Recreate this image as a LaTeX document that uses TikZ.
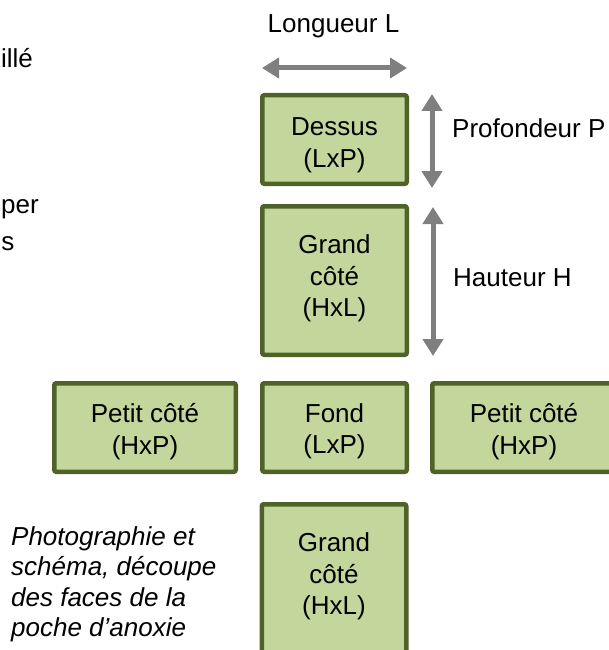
\documentclass[tikz,border=0pt]{standalone}
\usepackage{fontspec}
\setmainfont{Liberation Sans}
\usetikzlibrary{arrows.meta}
\definecolor{boxfill}{HTML}{C3D69B}
\definecolor{boxline}{HTML}{4F6228}
\definecolor{arrowgray}{HTML}{7F7F7F}
\begin{document}
\begin{tikzpicture}[x=1pt,y=-1pt,
  face/.style={draw=boxline, fill=boxfill, line width=4.5pt, rounded corners=2pt, minimum width=144.5pt, minimum height=88.5pt, inner sep=0pt, outer sep=0pt},
  tallface/.style={face, minimum height=148.5pt},
  wideface/.style={face, minimum width=181.5pt},
  facetext/.style={font=\fontsize{26}{31.5}\selectfont, align=center, inner sep=0pt, text=black},
  dimarrow/.style={draw=arrowgray, line width=5pt, {Triangle[width=20pt,length=17pt]}-{Triangle[width=20pt,length=17pt]}},
  lbl/.style={font=\fontsize{26}{31.5}\selectfont, inner sep=0pt, text=black}
]
\useasboundingbox (0,0) rectangle (609,650);
\clip (0,0) rectangle (609,650);

% cut-off text fragments on the left
\node[lbl, anchor=base east] (frag1) at (33,68) {illé};
\node[lbl, anchor=base east] (frag2) at (39,213) {per};
\node[lbl, anchor=base east] (frag3) at (14.5,250) {s};

% faces
\node[face] (dessus) at (334.5,139.5) {};
\node[facetext] (dessust) at (334.5,145) {Dessus\\(LxP)};

\node[tallface] (grand1) at (334.5,280.5) {};
\node[facetext] (grand1t) at (334.5,278.5) {Grand\\côté\\(HxL)};

\node[wideface] (petitg) at (145,427.5) {};
\node[facetext] (petitgt) at (145,431.5) {Petit côté\\(HxP)};

\node[face] (fond) at (334.5,427.5) {};
\node[facetext] (fondt) at (334.5,431.5) {Fond\\(LxP)};

\node[wideface] (petitd) at (523,427.5) {};
\node[facetext] (petitdt) at (524,431.5) {Petit côté\\(HxP)};

\node[tallface] (grand2) at (334,578.5) {};
\node[facetext] (grand2t) at (334,576.5) {Grand\\côté\\(HxL)};

% dimension arrows
\coordinate (hL) at (262,68);
\coordinate (hR) at (407,68);
\draw[dimarrow] (hL) -- (hR);
\coordinate (v1T) at (432,94);
\coordinate (v1B) at (432,188);
\draw[dimarrow] (v1T) -- (v1B);
\coordinate (v2T) at (433,207);
\coordinate (v2B) at (433,356);
\draw[dimarrow] (v2T) -- (v2B);

% labels
\node[lbl, anchor=base] (longueur) at (333.5,33) {Longueur L};
\node[lbl, anchor=base west] (profondeur) at (452,137) {Profondeur P};
\node[lbl, anchor=base west] (hauteur) at (453,286) {Hauteur H};

% caption
\node[font=\fontsize{26}{30.5}\selectfont\itshape, align=left, anchor=west, inner sep=0pt] (caption) at (11,584.5) {Photographie et\\schéma, découpe\\des faces de la\\poche d’anoxie};
\end{tikzpicture}
\end{document}
